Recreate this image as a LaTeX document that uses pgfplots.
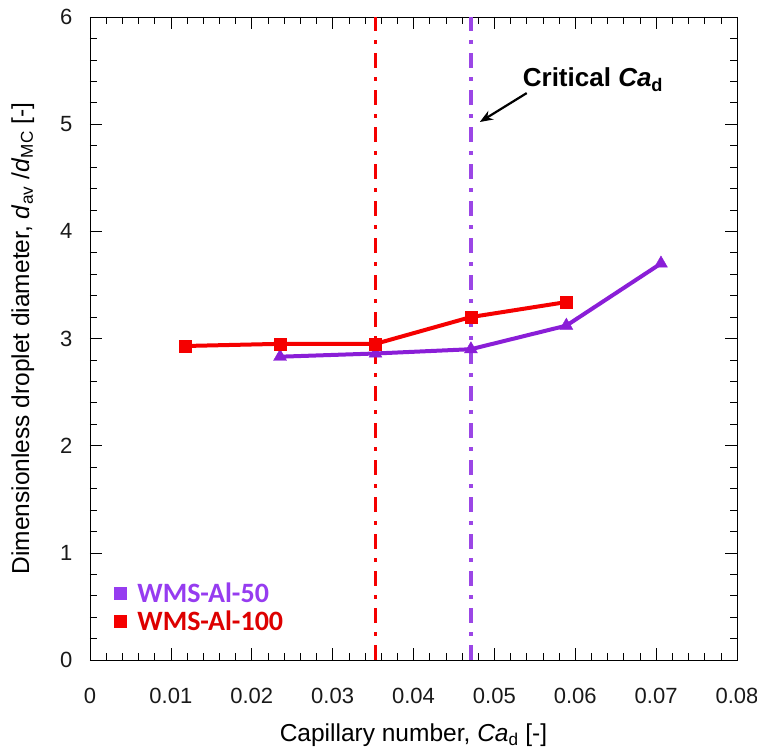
\documentclass[border=0pt]{standalone}
\usepackage{pgfplots}
\pgfplotsset{compat=1.18}
\usetikzlibrary{arrows.meta}
\usepackage{fontspec}
\setmainfont{Liberation Sans}
\newfontfamily\legfont{Carlito}
\definecolor{pur}{RGB}{138,30,215}
\definecolor{purl}{RGB}{155,70,230}
\definecolor{legpur}{RGB}{150,60,240}
\definecolor{rd}{RGB}{245,0,0}
\begin{document}
\begin{tikzpicture}
\begin{axis}[
  name=ax,
  scale only axis,
  width=647pt, height=643pt,
  xmin=0, xmax=0.08, ymin=0, ymax=6,
  scaled x ticks=false,
  xtick={0,0.01,...,0.08},
  xticklabels={0,0.01,0.02,0.03,0.04,0.05,0.06,0.07,0.08},
  ytick={0,1,...,6},
  yticklabels={0,1,2,3,4,5,6},
  minor x tick num=4, minor y tick num=4,
  tick align=inside,
  major tick length=12pt, minor tick length=7pt,
  every tick/.style={black, line width=0.6pt},
  axis line style={line width=0.8pt, black},
  tick label style={font=\fontsize{22}{22}\selectfont, text=black!90},
  xticklabel style={yshift=-25pt},
  yticklabel style={xshift=-14pt},
  xlabel={Capillary number, \textit{Ca}\textsubscript{d} [-]},
  ylabel={Dimensionless droplet diameter, \textit{d}\textsubscript{av} /\textit{d}\textsubscript{MC} [-]},
  label style={font=\fontsize{24.5}{24.5}\selectfont, text=black},
  xlabel style={at={(axis description cs:0.5,-0.1166)}, anchor=center},
  ylabel style={at={(axis description cs:-0.104,0.5)}, anchor=center, rotate=0},
  legend style={draw=none, fill=none, at={(axis cs:0.0030,0.74)}, anchor=north west,
    font=\legfont\bfseries\fontsize{28}{30}\selectfont, row sep=3pt, inner sep=0pt},
  legend cell align=left,
  clip=false,
]
% vertical critical lines
\addplot[rd, line width=3.2pt, dash pattern=on 15pt off 9pt on 4pt off 9pt, forget plot] coordinates {(0.0353,0) (0.0353,6)};
\addplot[purl, line width=3.2pt, dash pattern=on 15pt off 9pt on 4pt off 9pt, forget plot] coordinates {(0.0471,0) (0.0471,6)};
% data
\addplot[pur, line width=4pt, mark=triangle*, mark size=7.5pt, mark options={solid, line width=0.4pt}, forget plot] coordinates {
(0.0235,2.83) (0.0353,2.86) (0.0471,2.90) (0.0589,3.12) (0.0706,3.70)};
\addplot[rd, line width=4pt, mark=square*, mark size=6pt, mark options={solid, line width=0.4pt}, forget plot] coordinates {
(0.0118,2.93) (0.0235,2.95) (0.0353,2.95) (0.0471,3.20) (0.0589,3.34)};
\addlegendimage{only marks, mark=square*, mark size=6pt, legpur}
\addlegendentry{\hspace*{9pt}\textcolor{legpur}{WMS-Al-50}}
\addlegendimage{only marks, mark=square*, mark size=6pt, rd}
\addlegendentry{\hspace*{9pt}\textcolor{rd!90!black}{WMS-Al-100}}
% annotation
\node[anchor=base west, inner sep=0pt, font=\bfseries\fontsize{26}{26}\selectfont] at (axis cs:0.0535,5.35) {Critical \textit{Ca}\textsubscript{d}};
\draw[-{Stealth[length=13pt,width=10pt]}, line width=2.2pt] (axis cs:0.0540,5.29) -- (axis cs:0.0482,5.02);
\end{axis}
\pgfresetboundingbox
\path[use as bounding box] ([shift={(-90pt,-92pt)}]ax.south west) rectangle ([shift={(20pt,17pt)}]ax.north east);
\end{tikzpicture}
\end{document}
